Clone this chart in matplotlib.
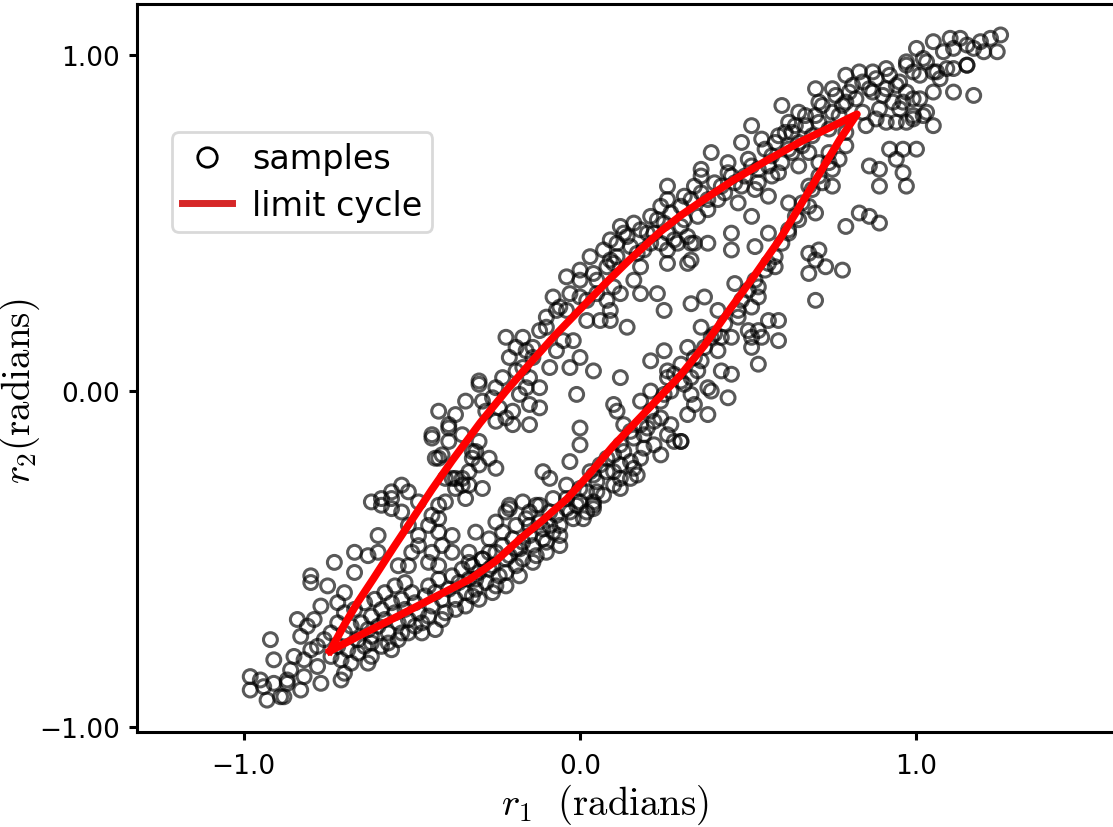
import matplotlib
matplotlib.use('Agg')
import matplotlib.pyplot as plt
from matplotlib.lines import Line2D
import numpy as np

plt.rcParams['mathtext.fontset'] = 'cm'
plt.rcParams['font.family'] = 'DejaVu Sans'

# limit cycle (r1, r2)
cycle_upper = [(-0.743, -0.774), (-0.70, -0.695), (-0.66, -0.628), (-0.615, -0.56), (-0.555, -0.467),
               (-0.496, -0.378), (-0.44, -0.293), (-0.38, -0.207), (-0.297, -0.095), (-0.22, 0.00),
               (-0.149, 0.082), (-0.075, 0.165), (0.0, 0.243), (0.07, 0.315), (0.14, 0.384),
               (0.238, 0.474), (0.30, 0.523), (0.357, 0.5625), (0.456, 0.628), (0.556, 0.687),
               (0.655, 0.742), (0.752, 0.789), (0.823, 0.824)]
cycle_lower = [(0.823, 0.824), (0.773, 0.75), (0.684, 0.601), (0.594, 0.452), (0.52, 0.346),
               (0.446, 0.244), (0.37, 0.136), (0.297, 0.045), (0.208, -0.048), (0.098, -0.164),
               (0.03, -0.245), (-0.039, -0.321), (-0.11, -0.384), (-0.178, -0.44), (-0.25, -0.506),
               (-0.327, -0.56), (-0.435, -0.615), (-0.535, -0.667), (-0.64, -0.72), (-0.743, -0.774)]

# samples, grouped by region of the cloud
tail_low_left = [(-0.92, -0.74), (-0.84, -0.68), (-0.81, -0.70), (-0.83, -0.73), (-0.91, -0.80),
                 (-0.85, -0.79), (-0.82, -0.80), (-0.98, -0.85), (-0.94, -0.88), (-0.98, -0.89),
                 (-0.93, -0.92), (-0.89, -0.91), (-0.91, -0.87), (-0.87, -0.86), (-0.83, -0.89),
                 (-0.82, -0.85), (-0.78, -0.82), (-0.77, -0.87), (-0.70, -0.84), (-0.71, -0.80),
                 (-0.68, -0.81), (-0.63, -0.81), (-0.62, -0.79), (-0.64, -0.76), (-0.59, -0.76),
                 (-0.56, -0.77), (-0.62, -0.73), (-0.54, -0.74), (-0.51, -0.72), (-0.47, -0.72),
                 (-0.80, -0.57), (-0.75, -0.58), (-0.70, -0.60), (-0.77, -0.64), (-0.72, -0.63),
                 (-0.79, -0.68), (-0.88, -0.91), (-0.87, -0.87), (-0.71, -0.86), (-0.95, -0.86),
                 (-0.86, -0.83), (-0.80, -0.77)]

band_low = [(-0.70, -0.72), (-0.68, -0.70), (-0.66, -0.74), (-0.65, -0.69), (-0.63, -0.71),
            (-0.62, -0.67), (-0.60, -0.70), (-0.59, -0.65), (-0.58, -0.68), (-0.57, -0.72),
            (-0.56, -0.63), (-0.55, -0.66), (-0.54, -0.69), (-0.53, -0.62), (-0.52, -0.65),
            (-0.51, -0.68), (-0.50, -0.60), (-0.49, -0.63), (-0.48, -0.66), (-0.47, -0.69),
            (-0.46, -0.61), (-0.45, -0.58), (-0.44, -0.64), (-0.43, -0.60), (-0.42, -0.56),
            (-0.41, -0.62), (-0.40, -0.66), (-0.39, -0.59), (-0.38, -0.55), (-0.37, -0.62),
            (-0.36, -0.57), (-0.35, -0.53), (-0.34, -0.60), (-0.33, -0.56), (-0.32, -0.52),
            (-0.31, -0.59), (-0.30, -0.54), (-0.29, -0.50), (-0.28, -0.57), (-0.27, -0.48),
            (-0.26, -0.52), (-0.24, -0.55), (-0.23, -0.46), (-0.22, -0.50), (-0.20, -0.44),
            (-0.19, -0.47), (-0.17, -0.45), (-0.15, -0.40), (-0.14, -0.46), (-0.12, -0.39),
            (-0.11, -0.44), (-0.09, -0.40), (-0.07, -0.37), (-0.06, -0.40), (-0.04, -0.35),
            (-0.02, -0.38), (-0.72, -0.76), (-0.69, -0.77), (-0.67, -0.65), (-0.64, -0.63),
            (-0.61, -0.62), (-0.58, -0.60), (-0.55, -0.58), (-0.52, -0.57), (-0.74, -0.72),
            (-0.76, -0.74), (-0.78, -0.76), (-0.72, -0.69), (-0.70, -0.66), (-0.74, -0.79),
            (-0.66, -0.78), (-0.62, -0.75), (-0.57, -0.75), (-0.53, -0.72), (-0.49, -0.70),
            (-0.45, -0.67), (-0.41, -0.68), (-0.37, -0.65), (-0.43, -0.71), (-0.34, -0.64),
            (-0.30, -0.62), (-0.26, -0.60), (-0.22, -0.58), (-0.18, -0.55), (-0.14, -0.51),
            (-0.10, -0.48), (-0.06, -0.46),
            (-0.21, -0.35), (-0.25, -0.39), (-0.13, -0.34), (-0.09, -0.36), (-0.01, -0.34),
            (0.01, -0.38), (0.04, -0.35), (0.04, -0.33), (-0.31, -0.42), (-0.27, -0.44),
            (-0.23, -0.42), (-0.19, -0.40), (-0.16, -0.38), (-0.15, -0.43), (-0.10, -0.45),
            (-0.08, -0.42), (-0.06, -0.43), (-0.11, -0.41), (-0.18, -0.47), (-0.21, -0.49),
            (-0.13, -0.49), (-0.17, -0.50), (-0.33, -0.51), (-0.29, -0.50), (-0.25, -0.48),
            (-0.22, -0.54), (-0.27, -0.53), (-0.31, -0.56), (-0.25, -0.58), (-0.32, -0.61),
            (-0.19, -0.52),
            (-0.42, -0.34), (-0.44, -0.37), (-0.42, -0.38), (-0.45, -0.40), (-0.48, -0.43),
            (-0.42, -0.42), (-0.38, -0.43), (-0.41, -0.46), (-0.48, -0.46), (-0.44, -0.48),
            (-0.38, -0.48), (-0.33, -0.48), (-0.50, -0.48), (-0.51, -0.52), (-0.45, -0.51),
            (-0.42, -0.52), (-0.54, -0.52),
            (0.00, -0.29), (-0.04, -0.28), (-0.09, -0.26), (-0.11, -0.24), (0.05, -0.30),
            (0.10, -0.28), (0.12, -0.26), (0.15, -0.26), (0.00, -0.33), (0.04, -0.34),
            (-0.04, -0.32), (-0.08, -0.32), (-0.12, -0.34), (-0.17, -0.33), (-0.21, -0.34),
            (-0.22, -0.36), (-0.15, -0.36), (-0.03, -0.36), (0.02, -0.36),
            (0.02, -0.30), (0.05, -0.27), (0.07, -0.31), (0.08, -0.20), (0.10, -0.24),
            (0.13, -0.18), (0.15, -0.21), (0.16, -0.14), (0.18, -0.10), (0.19, -0.13),
            (0.21, -0.06), (0.22, -0.09), (0.24, -0.03), (0.27, 0.00), (0.28, 0.05),
            (0.30, 0.08), (0.31, 0.02), (0.34, 0.10), (0.35, 0.06), (0.37, 0.13),
            (0.40, 0.17), (0.41, 0.12), (0.43, 0.20), (0.45, 0.16), (0.47, 0.22),
            (0.48, 0.27), (0.50, 0.30), (0.52, 0.33), (0.55, 0.36), (0.58, 0.40),
            (0.60, 0.44), (0.62, 0.48), (0.64, 0.52), (0.66, 0.56), (0.69, 0.60),
            (0.71, 0.64), (0.74, 0.68), (0.06, -0.22), (0.12, -0.29), (0.17, -0.25),
            (0.03, -0.24), (0.08, -0.24), (0.10, -0.19), (0.12, -0.16), (0.12, -0.22),
            (0.16, -0.23), (0.18, -0.20), (0.22, -0.16), (0.19, -0.17), (0.24, -0.19),
            (0.28, -0.15), (0.26, -0.13), (0.30, -0.15)]

band_up_left = [(-0.42, -0.06), (-0.37, -0.07), (-0.34, -0.03), (-0.30, 0.02), (-0.39, -0.11),
                (-0.44, -0.14), (-0.39, -0.15), (-0.41, -0.19), (-0.42, -0.20), (-0.32, -0.20),
                (-0.31, -0.18), (-0.53, -0.28), (-0.51, -0.30), (-0.62, -0.33), (-0.59, -0.34),
                (-0.56, -0.32), (-0.56, -0.35), (-0.53, -0.36), (-0.48, -0.33), (-0.51, -0.40),
                (-0.60, -0.43), (-0.67, -0.48), (-0.63, -0.49), (-0.60, -0.48), (-0.73, -0.51),
                (-0.80, -0.55), (-0.67, -0.54), (-0.38, -0.26), (-0.35, -0.26), (-0.33, -0.28),
                (-0.40, -0.33), (-0.34, -0.32),
                (-0.22, 0.16), (-0.17, 0.16), (-0.19, 0.13), (-0.14, 0.13), (-0.21, 0.10),
                (-0.17, 0.07), (-0.15, 0.04), (-0.12, 0.01), (-0.16, 0.01), (-0.18, -0.01),
                (-0.15, -0.04), (-0.12, -0.05), (-0.20, -0.06), (-0.24, -0.05), (-0.22, -0.08),
                (-0.20, -0.10), (-0.15, -0.10), (-0.25, -0.09), (-0.29, -0.03), (-0.30, 0.03),
                (-0.25, 0.01), (-0.39, -0.10), (-0.44, -0.13), (-0.43, -0.20), (-0.35, -0.13),
                (-0.30, -0.15), (-0.32, -0.18), (-0.27, -0.20), (-0.25, -0.23), (-0.30, -0.22),
                (-0.33, -0.24), (-0.37, -0.26), (-0.35, -0.28), (-0.40, -0.26), (-0.37, -0.29),
                (-0.29, -0.29), (-0.56, -0.30), (-0.59, -0.32),
                (-0.10, 0.22), (-0.08, 0.28), (-0.12, 0.18), (-0.14, 0.10), (-0.16, 0.12),
                (-0.19, 0.06), (-0.23, 0.04), (-0.26, -0.02), (-0.28, -0.06)]

band_up = [(-0.04, 0.34), (0.00, 0.33), (0.04, 0.35), (0.08, 0.37), (0.10, 0.38), (0.18, 0.37),
           (0.26, 0.38), (-0.03, 0.29), (0.00, 0.28), (-0.06, 0.25), (-0.07, 0.24), (-0.04, 0.24),
           (0.02, 0.27), (0.05, 0.29), (0.08, 0.27), (0.10, 0.31), (0.12, 0.29), (0.16, 0.33),
           (0.18, 0.29), (0.23, 0.29), (0.25, 0.24), (0.09, 0.24), (0.06, 0.21), (0.09, 0.21),
           (0.02, 0.21), (0.14, 0.19), (-0.10, 0.19), (-0.05, 0.15), (-0.02, 0.15), (-0.07, 0.12),
           (0.00, 0.10), (-0.03, 0.07), (-0.09, 0.07),
           (0.26, 0.61), (0.26, 0.57), (0.24, 0.55), (0.31, 0.58), (0.34, 0.61), (0.36, 0.64),
           (0.12, 0.49), (0.14, 0.46), (0.18, 0.48), (0.20, 0.47), (0.23, 0.51), (0.26, 0.47),
           (0.30, 0.49), (0.32, 0.46), (0.34, 0.44), (0.29, 0.44), (0.26, 0.42), (0.21, 0.44),
           (0.11, 0.44), (0.09, 0.39), (0.17, 0.41), (0.33, 0.39),
           (0.00, 0.36), (0.03, 0.40), (0.05, 0.33), (0.07, 0.42), (0.09, 0.45), (0.11, 0.40),
           (0.13, 0.47), (0.15, 0.43), (0.16, 0.50), (0.19, 0.42), (0.21, 0.52), (0.22, 0.47),
           (0.24, 0.44), (0.25, 0.50), (0.27, 0.53), (0.28, 0.45), (0.30, 0.55), (0.31, 0.51),
           (0.33, 0.57), (0.35, 0.52), (0.36, 0.59), (0.38, 0.54), (0.40, 0.62), (0.41, 0.57),
           (0.43, 0.59), (0.44, 0.65), (0.46, 0.62), (0.47, 0.56), (0.49, 0.64), (0.50, 0.69),
           (0.52, 0.60), (0.53, 0.66), (0.55, 0.72), (0.57, 0.64), (0.58, 0.74), (0.60, 0.68),
           (0.61, 0.77), (0.63, 0.71), (0.64, 0.79), (0.66, 0.73), (0.67, 0.82), (0.69, 0.76),
           (0.71, 0.80), (0.72, 0.85), (0.74, 0.78), (0.76, 0.88), (0.77, 0.82), (0.79, 0.86),
           (0.81, 0.91), (0.82, 0.87), (0.84, 0.92), (0.86, 0.90), (0.88, 0.93), (0.90, 0.88),
           (0.92, 0.94), (0.94, 0.91),
           (0.39, 0.71), (0.36, 0.66), (0.44, 0.68), (0.51, 0.79), (0.48, 0.74), (0.54, 0.75),
           (0.60, 0.85), (0.62, 0.80), (0.59, 0.76), (0.65, 0.83), (0.67, 0.79), (0.70, 0.90),
           (0.71, 0.86), (0.75, 0.90), (0.79, 0.94), (0.83, 0.95), (0.80, 0.89), (0.78, 0.85),
           (0.75, 0.83), (0.70, 0.82), (0.63, 0.77), (0.57, 0.70), (0.62, 0.72), (0.65, 0.74),
           (0.68, 0.71), (0.56, 0.67), (0.51, 0.67), (0.45, 0.64), (0.42, 0.61), (0.38, 0.57),
           (0.48, 0.61), (0.53, 0.62), (0.59, 0.65), (0.65, 0.67), (0.71, 0.68), (0.74, 0.71),
           (0.68, 0.61), (0.72, 0.62), (0.75, 0.66), (0.77, 0.69), (0.79, 0.73), (0.79, 0.77),
           (0.62, 0.56), (0.68, 0.55), (0.70, 0.53), (0.65, 0.51), (0.62, 0.47), (0.56, 0.47),
           (0.45, 0.47), (0.51, 0.52), (0.56, 0.58), (0.75, 0.61)]

tail_up_right = [(0.85, 0.79), (0.88, 0.81), (0.91, 0.80), (0.94, 0.80), (0.97, 0.80), (0.99, 0.81),
                 (1.02, 0.82), (1.05, 0.79), (0.84, 0.83), (0.89, 0.84), (0.93, 0.86), (0.96, 0.86),
                 (0.99, 0.87), (1.05, 0.89), (1.11, 0.89), (1.17, 0.88), (0.87, 0.89), (0.91, 0.90),
                 (0.95, 0.92), (1.01, 0.94), (1.05, 0.95), (1.09, 0.96), (1.15, 0.97), (0.87, 0.95),
                 (0.91, 0.96), (0.97, 0.97), (1.03, 0.98), (0.97, 0.98), (1.00, 1.02), (1.02, 0.99),
                 (1.05, 1.04), (1.08, 1.01), (1.10, 1.05), (1.11, 1.02), (1.13, 1.05), (1.15, 1.03),
                 (1.17, 1.02), (1.19, 1.04), (1.22, 1.05), (1.25, 1.06), (1.24, 1.01), (1.20, 1.01),
                 (1.15, 0.97), (1.11, 0.96), (1.06, 0.95), (1.07, 0.93), (0.99, 0.95), (0.97, 0.89),
                 (1.01, 0.87), (1.03, 0.83), (0.99, 0.82), (0.95, 0.84)]

interior = [(0.04, 0.06), (0.12, 0.04), (0.25, 0.12), (0.21, 0.09), (0.26, 0.06), (-0.01, -0.01),
            (0.00, -0.11), (0.00, -0.16), (-0.03, -0.21), (0.04, -0.25), (0.11, -0.06),
            (0.10, -0.04), (0.13, -0.10), (0.15, -0.12), (0.20, -0.11), (0.18, -0.03),
            (0.21, 0.00), (0.25, -0.01), (0.26, 0.04), (0.27, -0.10), (0.24, -0.08),
            (0.33, 0.44), (0.38, 0.44), (0.45, 0.42), (0.52, 0.43), (0.32, 0.38), (0.58, 0.37),
            (0.56, 0.38), (0.46, 0.32), (0.53, 0.31), (0.53, 0.28), (0.51, 0.25), (0.37, 0.28),
            (0.33, 0.26), (0.41, 0.24), (0.47, 0.24), (0.56, 0.21), (0.59, 0.21), (0.53, 0.18),
            (0.50, 0.18), (0.51, 0.16), (0.54, 0.16), (0.59, 0.15), (0.51, 0.13), (0.42, 0.16),
            (0.36, 0.19), (0.39, 0.16), (0.32, 0.13), (0.36, 0.09), (0.53, 0.08), (0.42, 0.06),
            (0.45, 0.05), (0.33, 0.04), (0.30, 0.03), (0.38, 0.01), (0.39, 0.00), (0.44, -0.02),
            (0.33, -0.01), (0.34, -0.04), (0.32, -0.07), (0.38, -0.07), (0.30, -0.15)]

outliers_right = [(0.68, 0.41), (0.71, 0.42), (0.70, 0.39), (0.73, 0.37), (0.78, 0.36),
                  (0.68, 0.35), (0.70, 0.27), (0.92, 0.72), (0.96, 0.72), (0.94, 0.69),
                  (0.96, 0.65), (1.00, 0.72), (0.86, 0.67), (0.89, 0.66), (0.89, 0.61),
                  (0.97, 0.61), (0.83, 0.53), (0.86, 0.52), (0.89, 0.50), (0.79, 0.49)]

groups = [tail_low_left, band_low, band_up_left, band_up, tail_up_right, interior, outliers_right]
samples = np.array([p for g in groups for p in g])
cycle = np.array(cycle_upper + cycle_lower[1:])

fig = plt.figure(figsize=(11.13, 8.28), dpi=100)
ax = fig.add_axes([0.1231, 0.1147, 0.8769, 0.8792])

ax.scatter(samples[:, 0], samples[:, 1], s=100, facecolors='none', edgecolors='black',
           linewidths=2.2, alpha=0.65, zorder=2)
ax.plot(cycle[:, 0], cycle[:, 1], color='#ff0000', lw=5.5, solid_joinstyle='round', zorder=3)

ax.set_xlim(-1.3165, 1.584)
ax.set_ylim(-1.015, 1.152)
ax.set_xticks([-1.0, 0.0, 1.0])
ax.set_xticklabels(['\u22121.0', '0.0', '1.0'])
ax.set_yticks([-1.0, 0.0, 1.0])
ax.set_yticklabels(['\u22121.00', '0.00', '1.00'])
ax.tick_params(labelsize=19, width=2.2, length=6, direction='out')
ax.tick_params(axis='x', pad=9)
ax.tick_params(axis='y', pad=6)

for side in ['left', 'bottom', 'top']:
    ax.spines[side].set_linewidth(2.2)
ax.spines['right'].set_visible(False)

ax.set_xlabel(r'$r_1\ \ \mathrm{(radians)}$', fontsize=28)
ax.set_ylabel(r'$r_2\mathrm{(radians)}$', fontsize=28)
ax.xaxis.set_label_coords(0.48, -0.068)
ax.yaxis.set_label_coords(-0.097, 0.47)

handles = [Line2D([], [], ls='none', marker='o', ms=14, mfc='none', mec='black', mew=2),
           Line2D([], [], color='#d62728', lw=5)]
leg = ax.legend(handles, ['samples', 'limit cycle'], loc='upper left',
                bbox_to_anchor=(0.036, 0.824), borderaxespad=0, fontsize=24,
                handlelength=1.5, frameon=True, fancybox=True, borderpad=0.3,
                labelspacing=0.4, handletextpad=0.6)
leg.get_frame().set_edgecolor('#d0d0d0')
leg.get_frame().set_linewidth(2)

fig.savefig('out.png', dpi=100)
